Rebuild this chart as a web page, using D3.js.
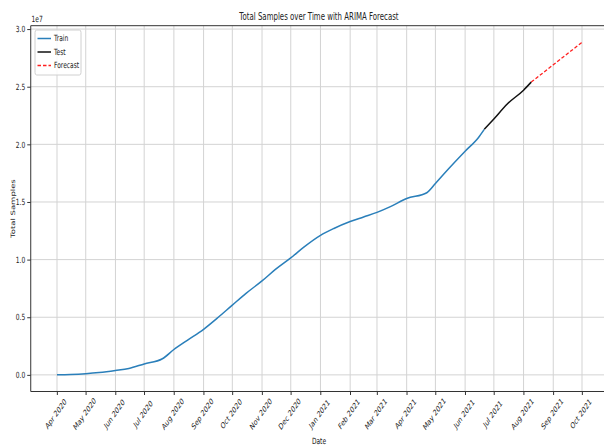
<!DOCTYPE html>
<html>
<head>
<meta charset="utf-8">
<script src="https://cdn.jsdelivr.net/npm/d3@7"></script>
<style>
  html, body { margin: 0; padding: 0; background: #fff; }
  svg { display: block; }
  text { font-family: "DejaVu Sans", sans-serif; fill: #222; }
</style>
</head>
<body>
<svg id="chart" width="604" height="446"></svg>
<script>
// Cumulative samples tested: training segment
const trainDates = ["2020-04-01","2020-04-15","2020-05-01","2020-05-15","2020-06-01","2020-06-15",
  "2020-07-01","2020-07-20","2020-08-01","2020-08-15","2020-09-01","2020-09-15","2020-10-01",
  "2020-10-15","2020-11-01","2020-11-15","2020-12-01","2020-12-15","2021-01-01","2021-01-15",
  "2021-02-01","2021-02-15","2021-03-01","2021-03-15","2021-04-01","2021-04-22","2021-05-01",
  "2021-05-15","2021-06-01","2021-06-15","2021-06-21"];
const trainValues = [0, 30000, 100000, 200000, 380000, 560000,
  950000, 1400000, 2200000, 3000000, 3950000, 4900000, 6050000,
  7050000, 8150000, 9150000, 10150000, 11100000, 12100000, 12700000,
  13300000, 13700000, 14100000, 14600000, 15300000, 15800000, 16600000,
  17900000, 19400000, 20600000, 21300000];

// Held-out test segment
const testDates = ["2021-06-21","2021-07-01","2021-07-15","2021-08-01","2021-08-09"];
const testValues = [21300000, 22200000, 23500000, 24700000, 25400000];

// ARIMA forecast
const forecastDates = ["2021-08-09","2021-09-01","2021-10-01"];
const forecastValues = [25400000, 26900000, 28850000];

// Axis ticks
const monthTicks = ["2020-04-01","2020-05-01","2020-06-01","2020-07-01","2020-08-01","2020-09-01",
  "2020-10-01","2020-11-01","2020-12-01","2021-01-01","2021-02-01","2021-03-01","2021-04-01",
  "2021-05-01","2021-06-01","2021-07-01","2021-08-01","2021-09-01","2021-10-01"];
const yTicks = [0, 5000000, 10000000, 15000000, 20000000, 25000000, 30000000];

const parse = d3.timeParse("%Y-%m-%d");
const zip = (ds, vs) => ds.map((d, i) => ({ date: parse(d), value: vs[i] }));
const train = zip(trainDates, trainValues);
const test = zip(testDates, testValues);
const forecast = zip(forecastDates, forecastValues);
const all = train.concat(test, forecast);

// The figure is laid out on a wider canvas and squeezed horizontally
const kx = 0.7;
const box = { left: 30.75 / kx, right: 608.25 / kx, top: 25.7, bottom: 391.5 };

const svg = d3.select("#chart");
const g = svg.append("g").attr("transform", `scale(${kx},1)`);

// 5% data margins, as in the default autoscaling
const tExt = d3.extent(all, d => d.date);
const tPad = (tExt[1] - tExt[0]) * 0.05;
const x = d3.scaleTime()
  .domain([new Date(+tExt[0] - tPad), new Date(+tExt[1] + tPad)])
  .range([box.left, box.right]);
const vExt = d3.extent(all, d => d.value);
const vPad = (vExt[1] - vExt[0]) * 0.05;
const y = d3.scaleLinear()
  .domain([vExt[0] - vPad, vExt[1] + vPad])
  .range([box.bottom, box.top]);

const ticksX = monthTicks.map(parse);

// grid
const grid = g.append("g");
grid.selectAll("line.vx").data(ticksX).join("line")
  .attr("x1", d => x(d)).attr("x2", d => x(d))
  .attr("y1", box.top).attr("y2", box.bottom)
  .attr("stroke", "#d3d3d3").attr("stroke-width", 1)
  .attr("vector-effect", "non-scaling-stroke");
grid.selectAll("line.hy").data(yTicks).join("line")
  .attr("x1", box.left).attr("x2", box.right)
  .attr("y1", d => y(d)).attr("y2", d => y(d))
  .attr("stroke", "#d3d3d3").attr("stroke-width", 1)
  .attr("vector-effect", "non-scaling-stroke");

// series
const line = d3.line().x(d => x(d.date)).y(d => y(d.value)).curve(d3.curveMonotoneX);
g.append("path").datum(train).attr("d", line)
  .attr("fill", "none").attr("stroke", "#2a7fba").attr("stroke-width", 1.5)
  .attr("vector-effect", "non-scaling-stroke");
g.append("path").datum(test).attr("d", line)
  .attr("fill", "none").attr("stroke", "#111").attr("stroke-width", 1.5)
  .attr("vector-effect", "non-scaling-stroke");
g.append("path").datum(forecast).attr("d", line)
  .attr("fill", "none").attr("stroke", "#ff2020").attr("stroke-width", 1.3)
  .attr("stroke-dasharray", "3.5,2")
  .attr("vector-effect", "non-scaling-stroke");

// axes
const xAxis = g.append("g").attr("transform", `translate(0,${box.bottom})`)
  .call(d3.axisBottom(x).tickValues(ticksX).tickFormat(d3.timeFormat("%b %Y"))
    .tickSize(3.5).tickSizeOuter(0));
xAxis.select(".domain").remove();
xAxis.selectAll(".tick line").attr("stroke", "#333").attr("vector-effect", "non-scaling-stroke");
xAxis.selectAll(".tick text")
  .attr("y", 0).attr("dy", null)
  .attr("transform", "translate(-2,22.5) rotate(-45)")
  .attr("text-anchor", "middle").attr("dominant-baseline", "central")
  .attr("font-size", 8.5).attr("font-family", "DejaVu Sans").attr("fill", "#222");

const yAxis = g.append("g").attr("transform", `translate(${box.left},0)`)
  .call(d3.axisLeft(y).tickValues(yTicks).tickFormat(d => (d / 1e7).toFixed(1))
    .tickSize(3.5 / kx).tickPadding(2 / kx).tickSizeOuter(0));
yAxis.select(".domain").remove();
yAxis.selectAll(".tick line").attr("stroke", "#333").attr("vector-effect", "non-scaling-stroke");
yAxis.selectAll(".tick text")
  .attr("font-size", 8.5).attr("font-family", "DejaVu Sans").attr("fill", "#222");

// spines
const sp = g.append("g").attr("stroke", "#333").attr("stroke-width", 1)
  .attr("fill", "none");
sp.append("line").attr("x1", box.left).attr("x2", box.left).attr("y1", box.top).attr("y2", box.bottom)
  .attr("vector-effect", "non-scaling-stroke");
sp.append("line").attr("x1", box.left).attr("x2", box.right).attr("y1", box.bottom).attr("y2", box.bottom)
  .attr("vector-effect", "non-scaling-stroke");
sp.append("line").attr("x1", box.left).attr("x2", box.right).attr("y1", box.top).attr("y2", box.top)
  .attr("vector-effect", "non-scaling-stroke");
sp.append("line").attr("x1", box.right).attr("x2", box.right).attr("y1", box.top).attr("y2", box.bottom)
  .attr("vector-effect", "non-scaling-stroke");

// offset text, title, axis labels
g.append("text").attr("x", box.left + 1).attr("y", 22.5).attr("font-size", 8.5).text("1e7");
g.append("text").attr("x", 319 / kx).attr("y", 20.5).attr("text-anchor", "middle")
  .attr("font-size", 10).text("Total Samples over Time with ARIMA Forecast");
g.append("text").attr("x", 319 / kx).attr("y", 444.5).attr("text-anchor", "middle")
  .attr("font-size", 8.5).text("Date");
g.append("text").attr("transform", `translate(${15 / kx},${(box.top + box.bottom) / 2}) rotate(-90)`)
  .attr("text-anchor", "middle").attr("font-size", 8.5).text("Total Samples");

// legend
const lg = g.append("g");
lg.append("rect").attr("x", 35 / kx).attr("y", 30).attr("width", 46 / kx).attr("height", 45)
  .attr("rx", 2.5).attr("fill", "#fff").attr("fill-opacity", 0.85)
  .attr("stroke", "#d0d0d0").attr("stroke-width", 1).attr("vector-effect", "non-scaling-stroke");
const legendItems = [
  { label: "Train", color: "#2a7fba", dash: null },
  { label: "Test", color: "#111", dash: null },
  { label: "Forecast", color: "#ff2020", dash: "3.5,2" }
];
legendItems.forEach((it, i) => {
  const cy = 38.5 + i * 13.5;
  lg.append("line").attr("x1", 37.5 / kx).attr("x2", 51 / kx).attr("y1", cy).attr("y2", cy)
    .attr("stroke", it.color).attr("stroke-width", 1.5)
    .attr("stroke-dasharray", it.dash).attr("vector-effect", "non-scaling-stroke");
  lg.append("text").attr("x", 54 / kx).attr("y", cy).attr("dominant-baseline", "central")
    .attr("font-size", 8.5).text(it.label);
});
</script>
</body>
</html>
